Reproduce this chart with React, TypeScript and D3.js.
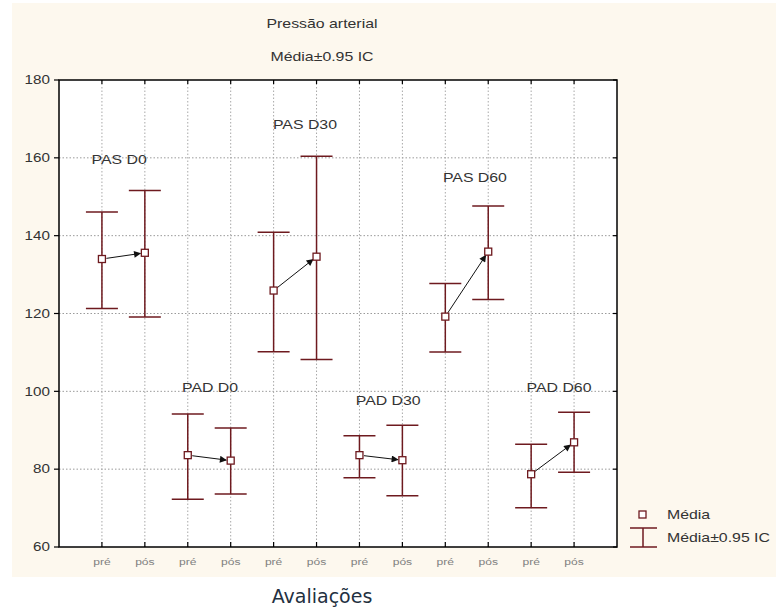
import React from 'react'
import * as d3 from 'd3'

const W = 776
const H = 610
const margin = { top: 80, right: 159, bottom: 63, left: 59 }

const categories = ['pré', 'pós', 'pré', 'pós', 'pré', 'pós', 'pré', 'pós', 'pré', 'pós', 'pré', 'pós']
const groups = ['PAS D0', 'PAD D0', 'PAS D30', 'PAD D30', 'PAS D60', 'PAD D60']
const means = [134.0, 135.6, 83.6, 82.2, 125.9, 134.6, 83.6, 82.3, 119.2, 135.9, 78.7, 86.9]
const upper = [146.1, 151.6, 94.2, 90.6, 140.9, 160.4, 88.6, 91.3, 127.7, 147.6, 86.4, 94.6]
const lower = [121.3, 119.1, 72.3, 73.6, 110.2, 108.2, 77.8, 73.2, 110.1, 123.6, 70.1, 79.2]
// label anchor in axis units (category index, value)
const labelX = [1.4, 3.52, 5.73, 7.67, 9.69, 11.65]
const labelY = [159.6, 101, 168.5, 97.6, 155, 101]
const yTicks = [60, 80, 100, 120, 140, 160, 180]

const maroon = '#6e1a1f'
const textCol = '#333'

// the original bitmap is stretched horizontally, so text gets a x-scale
const T = ({ x, y, size, anchor = 'start', fill = textCol, sx = 1.27, dy, children }: any) => (
  <g transform={`translate(${x},${y}) scale(${sx},1)`}>
    <text x={0} y={0} dy={dy} fontSize={size} textAnchor={anchor} fill={fill}>{children}</text>
  </g>
)

const App = () => {
  const x = d3.scaleLinear().domain([0, categories.length + 1]).range([margin.left, W - margin.right])
  const y = d3.scaleLinear().domain([60, 180]).range([H - margin.bottom, margin.top])
  const x0 = x.range()[0], x1 = x.range()[1]
  const y0 = y.range()[0], y1 = y.range()[1]
  const cap = 16
  const sq = 7

  const arrows = groups.map((g, gi) => {
    const a = gi * 2, b = gi * 2 + 1
    const ax = x(a + 1), ay = y(means[a])
    const bx = x(b + 1), by = y(means[b])
    const len = Math.hypot(bx - ax, by - ay)
    const ux = (bx - ax) / len, uy = (by - ay) / len
    const sx = ax + ux * (sq / 2 + 1), sy = ay + uy * (sq / 2 + 1)
    const ex = bx - ux * (sq / 2 + 1), ey = by - uy * (sq / 2 + 1)
    return { sx, sy, ex, ey, key: g }
  })

  return (
    <svg width={W} height={H} style={{ display: 'block', position: 'absolute', left: 0, top: 0 }}
      fontFamily="'Liberation Sans', Arial, sans-serif">
      <defs>
        <marker id="arr" viewBox="0 0 10 10" refX="9" refY="5" markerWidth="10" markerHeight="7" orient="auto"
          markerUnits="userSpaceOnUse">
          <path d="M0,0 L10,5 L0,10 z" fill="#111" />
        </marker>
      </defs>
      <rect x={0} y={0} width={W} height={H} fill="#fff" />
      <rect x={12} y={3} width={W - 12} height={574} fill="#fdf8ee" />
      <T x={322} y={28} size={12.5} anchor="middle">Pressão arterial</T>
      <T x={322} y={61} size={12.5} anchor="middle">Média±0.95 IC</T>

      <rect x={x0} y={y1} width={x1 - x0} height={y0 - y1} fill="#fff" />

      {/* grid */}
      {yTicks.slice(1, -1).map(t => (
        <line key={'gy' + t} x1={x0} x2={x1} y1={y(t)} y2={y(t)} stroke="#9a9a9a" strokeWidth={1} strokeDasharray="1.5,2" />
      ))}
      {categories.map((c, i) => (
        <line key={'gx' + i} x1={x(i + 1)} x2={x(i + 1)} y1={y1} y2={y0} stroke="#a8a8a8" strokeWidth={1} strokeDasharray="1.5,2" />
      ))}

      {/* frame and ticks */}
      <rect x={x0} y={y1} width={x1 - x0} height={y0 - y1} fill="none" stroke="#000" strokeWidth={1.5} />
      {yTicks.map(t => (
        <g key={'yt' + t}>
          <line x1={x0 - 5} x2={x0} y1={y(t)} y2={y(t)} stroke="#000" strokeWidth={1.2} />
          <line x1={x1 - 4} x2={x1} y1={y(t)} y2={y(t)} stroke="#000" strokeWidth={1.2} />
          <T x={x0 - 9} y={y(t)} dy="0.35em" anchor="end" size={12}>{t}</T>
        </g>
      ))}
      {categories.map((c, i) => (
        <g key={'xt' + i}>
          <line x1={x(i + 1)} x2={x(i + 1)} y1={y0 - 5} y2={y0} stroke="#000" strokeWidth={1.2} />
          <line x1={x(i + 1)} x2={x(i + 1)} y1={y1} y2={y1 + 4} stroke="#000" strokeWidth={1.2} />
          <T x={x(i + 1)} y={y0 + 18} anchor="middle" size={9.5} fill="#808080">{c}</T>
        </g>
      ))}

      {/* error bars */}
      {means.map((m, i) => (
        <g key={'eb' + i} stroke={maroon} strokeWidth={1.5}>
          <line x1={x(i + 1)} x2={x(i + 1)} y1={y(lower[i])} y2={y(upper[i])} />
          <line x1={x(i + 1) - cap} x2={x(i + 1) + cap} y1={y(upper[i])} y2={y(upper[i])} />
          <line x1={x(i + 1) - cap} x2={x(i + 1) + cap} y1={y(lower[i])} y2={y(lower[i])} />
        </g>
      ))}

      {/* arrows */}
      {arrows.map(a => (
        <line key={a.key} x1={a.sx} y1={a.sy} x2={a.ex} y2={a.ey} stroke="#111" strokeWidth={1} markerEnd="url(#arr)" />
      ))}

      {/* means */}
      {means.map((m, i) => (
        <rect key={'m' + i} x={x(i + 1) - sq / 2} y={y(m) - sq / 2} width={sq} height={sq}
          fill="#fff" stroke={maroon} strokeWidth={1.3} />
      ))}

      {/* group labels */}
      {groups.map((g, gi) => (
        <T key={'l' + g} x={x(labelX[gi])} y={y(labelY[gi])} dy="0.35em" anchor="middle" size={12.5}>{g}</T>
      ))}

      {/* legend */}
      <rect x={639} y={511} width={7} height={7} fill="#fff" stroke={maroon} strokeWidth={1.3} />
      <T x={667} y={515} dy="0.35em" size={12.5}>Média</T>
      <g stroke={maroon} strokeWidth={1.5}>
        <line x1={643} x2={643} y1={528} y2={547} />
        <line x1={630} x2={657} y1={528} y2={528} />
        <line x1={630} x2={657} y1={547} y2={547} />
      </g>
      <T x={667} y={538} dy="0.35em" size={12.5}>Média±0.95 IC</T>

      <text x={322} y={603} textAnchor="middle" fontSize={19} fill="#23303f"
        fontFamily="'DejaVu Sans', Verdana, sans-serif">Avaliações</text>
    </svg>
  )
}

export default App
